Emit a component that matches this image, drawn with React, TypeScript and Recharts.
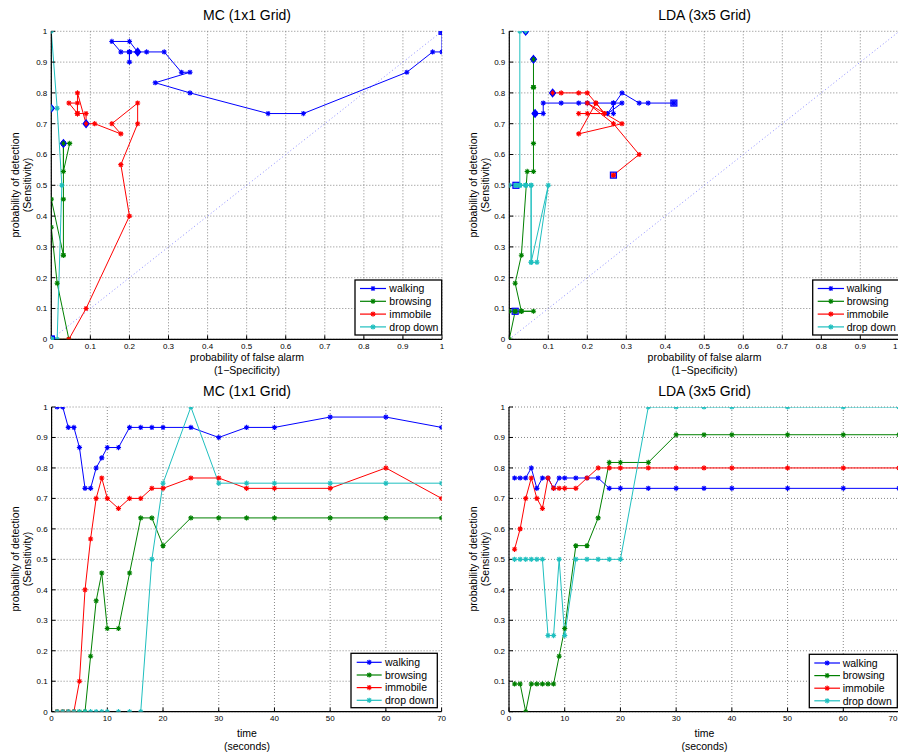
import React from 'react';
import { LineChart, Line, XAxis, YAxis, CartesianGrid, ReferenceLine } from 'recharts';

const seriesNames = ['walking', 'browsing', 'immobile', 'drop down'];
const seriesColors = ['#0000ff', '#008000', '#ff0000', '#1fbfbf'];

const timeSeconds = [1, 2, 3, 4, 5, 6, 7, 8, 9, 10, 12, 14, 16, 18, 20, 25, 30, 35, 40, 50, 60, 70];

// MC (1x1 Grid) sensitivity over time
const mcWalkingSens = [1, 1, 0.933, 0.933, 0.867, 0.733, 0.733, 0.8, 0.833, 0.867, 0.867, 0.933, 0.933, 0.933, 0.933, 0.933, 0.9, 0.933, 0.933, 0.967, 0.967, 0.933];
const mcBrowsingSens = [0, 0, 0, 0, 0, 0, 0.182, 0.364, 0.455, 0.273, 0.273, 0.455, 0.636, 0.636, 0.545, 0.636, 0.636, 0.636, 0.636, 0.636, 0.636, 0.636];
const mcImmobileSens = [0, 0, 0, 0, 0.1, 0.4, 0.567, 0.7, 0.767, 0.7, 0.667, 0.7, 0.7, 0.733, 0.733, 0.767, 0.767, 0.733, 0.733, 0.733, 0.8, 0.7];
const mcDropSens = [0, 0, 0, 0, 0, 0, 0, 0, 0, 0, 0, 0, 0, 0.5, 0.75, 1, 0.75, 0.75, 0.75, 0.75, 0.75, 0.75];

// MC (1x1 Grid) false alarm rate over time
const mcWalkingFpr = [1, 1, 1, 0.976, 0.91, 0.645, 0.555, 0.355, 0.266, 0.355, 0.333, 0.289, 0.244, 0.221, 0.2, 0.2, 0.2, 0.2, 0.178, 0.155, 0.2, 0.221];
const mcBrowsingFpr = [0, 0, 0, 0, 0, 0.045, 0.015, 0, 0, 0.031, 0.031, 0.031, 0.031, 0.031, 0.031, 0.047, 0.031, 0.031, 0.031, 0.031, 0.031, 0.031];
const mcImmobileFpr = [0, 0, 0, 0.045, 0.089, 0.2, 0.178, 0.221, 0.221, 0.155, 0.178, 0.111, 0.089, 0.089, 0.067, 0.067, 0.045, 0.067, 0.067, 0.067, 0.067, 0.089];
const mcDropFpr = [0, 0, 0, 0, 0, 0, 0, 0, 0, 0, 0, 0, 0.015, 0.027, 0.015, 0, 0, 0, 0, 0, 0, 0];

// LDA (3x5 Grid) sensitivity over time
const ldaWalkingSens = [0.767, 0.767, 0.767, 0.8, 0.733, 0.767, 0.767, 0.733, 0.767, 0.767, 0.767, 0.767, 0.767, 0.733, 0.733, 0.733, 0.733, 0.733, 0.733, 0.733, 0.733, 0.733];
const ldaBrowsingSens = [0.091, 0.091, 0, 0.091, 0.091, 0.091, 0.091, 0.091, 0.182, 0.273, 0.545, 0.545, 0.636, 0.818, 0.818, 0.818, 0.909, 0.909, 0.909, 0.909, 0.909, 0.909];
const ldaImmobileSens = [0.533, 0.6, 0.7, 0.767, 0.7, 0.667, 0.767, 0.733, 0.733, 0.733, 0.733, 0.767, 0.8, 0.8, 0.8, 0.8, 0.8, 0.8, 0.8, 0.8, 0.8, 0.8];
const ldaDropSens = [0.5, 0.5, 0.5, 0.5, 0.5, 0.5, 0.25, 0.25, 0.5, 0.25, 0.5, 0.5, 0.5, 0.5, 0.5, 1, 1, 1, 1, 1, 1, 1];

// LDA (3x5 Grid) false alarm rate over time
const ldaWalkingFpr = [0.422, 0.356, 0.333, 0.289, 0.252, 0.289, 0.267, 0.267, 0.267, 0.2, 0.178, 0.133, 0.087, 0.087, 0.066, 0.066, 0.066, 0.066, 0.066, 0.066, 0.066, 0.066];
const ldaBrowsingFpr = [0.015, 0, 0, 0.015, 0.031, 0.062, 0.031, 0.031, 0.015, 0.031, 0.046, 0.062, 0.062, 0.062, 0.062, 0.062, 0.062, 0.062, 0.062, 0.062, 0.062, 0.062];
const ldaImmobileFpr = [0.267, 0.333, 0.267, 0.2, 0.289, 0.178, 0.222, 0.244, 0.2, 0.178, 0.244, 0.222, 0.2, 0.178, 0.133, 0.111, 0.111, 0.111, 0.111, 0.111, 0.111, 0.111];
const ldaDropFpr = [0.017, 0, 0.017, 0.027, 0.042, 0.056, 0.056, 0.071, 0.1, 0.056, 0.056, 0.042, 0.042, 0.027, 0.027, 0.027, 0.042, 0.042, 0.042, 0.042, 0.042, 0.042];

const rocTicks = [0, 0.1, 0.2, 0.3, 0.4, 0.5, 0.6, 0.7, 0.8, 0.9, 1];
const sensTicks = [0, 0.1, 0.2, 0.3, 0.4, 0.5, 0.6, 0.7, 0.8, 0.9, 1];
const timeTicks = [0, 10, 20, 30, 40, 50, 60, 70];

type Pt = { x: number; y: number };
const zip = (xs: number[], ys: number[]): Pt[] => xs.map((x, i) => ({ x, y: ys[i] }));

const mcRoc = [zip(mcWalkingFpr, mcWalkingSens), zip(mcBrowsingFpr, mcBrowsingSens), zip(mcImmobileFpr, mcImmobileSens), zip(mcDropFpr, mcDropSens)];
const ldaRoc = [zip(ldaWalkingFpr, ldaWalkingSens), zip(ldaBrowsingFpr, ldaBrowsingSens), zip(ldaImmobileFpr, ldaImmobileSens), zip(ldaDropFpr, ldaDropSens)];
const mcTime = [zip(timeSeconds, mcWalkingSens), zip(timeSeconds, mcBrowsingSens), zip(timeSeconds, mcImmobileSens), zip(timeSeconds, mcDropSens)];
const ldaTime = [zip(timeSeconds, ldaWalkingSens), zip(timeSeconds, ldaBrowsingSens), zip(timeSeconds, ldaImmobileSens), zip(timeSeconds, ldaDropSens)];

const FONT = '"Liberation Sans", Arial, Helvetica, sans-serif';
const PAGE_W = 898;

const starPath = (cx: number, cy: number, r = 2.6) => {
  const d = r * 0.72;
  return `M${cx - r},${cy}H${cx + r}M${cx},${cy - r}V${cy + r}M${cx - d},${cy - d}L${cx + d},${cy + d}M${cx - d},${cy + d}L${cx + d},${cy - d}`;
};

const makeDot = (color: string, n: number, special: boolean) => (props: any) => {
  const { cx, cy, index } = props;
  if (cx == null || cy == null || isNaN(cx) || isNaN(cy)) return <g key={`d-${index}`} />;
  return (
    <g key={`d-${index}`}>
      <path d={starPath(cx, cy)} stroke={color} strokeWidth={1.1} fill="none" />
      {special && index === 0 && (
        <rect x={cx - 3} y={cy - 3} width={6} height={6} fill={color} fillOpacity={0.55} stroke="#0000ff" strokeWidth={1.2} />
      )}
      {special && index === n - 1 && (
        <polygon points={`${cx},${cy - 3.8} ${cx + 3},${cy} ${cx},${cy + 3.8} ${cx - 3},${cy}`} fill={color} stroke="#0000ff" strokeWidth={1.2} />
      )}
    </g>
  );
};

type PanelProps = {
  left: number;
  top: number;
  width: number;
  height: number;
  margin: { top: number; right: number; bottom: number; left: number };
  xMax: number;
  xTicks: number[];
  series: Pt[][];
  roc: boolean;
};

const fmt = (v: number) => String(Math.round(v * 10) / 10);

const makeXTick = (panelLeft: number) => (props: any) => {
  const { x, y, payload, index } = props;
  const overflow = x + panelLeft > PAGE_W - 5;
  const tx = overflow ? PAGE_W - panelLeft - 0.5 : x;
  return (
    <text key={`xt-${index}`} x={tx} y={y} dy="0.71em" textAnchor={overflow ? 'end' : 'middle'} fontSize={8} fill="#000" fontFamily={FONT}>
      {fmt(payload.value)}
    </text>
  );
};

const Panel = ({ left, top, width, height, margin, xMax, xTicks, series, roc }: PanelProps) => (
  <div style={{ position: 'absolute', left, top, width, height }}>
    <LineChart width={width} height={height} margin={margin}>
      <CartesianGrid stroke="#7a7a7a" strokeDasharray="1 2" strokeWidth={0.9} />
      <XAxis
        type="number"
        dataKey="x"
        domain={[0, xMax]}
        ticks={xTicks}
        interval={0}
        height={20}
        tickSize={-4}
        tickMargin={8}
        axisLine={{ stroke: '#000', strokeWidth: 1.2 }}
        tickLine={{ stroke: '#000' }}
        tick={makeXTick(left)}
        allowDataOverflow
      />
      <XAxis
        xAxisId="top"
        orientation="top"
        mirror
        type="number"
        dataKey="x"
        domain={[0, xMax]}
        ticks={xTicks}
        interval={0}
        height={0}
        tickSize={4}
        tick={false}
        axisLine={{ stroke: '#000', strokeWidth: 1 }}
        tickLine={{ stroke: '#000' }}
        allowDataOverflow
      />
      <YAxis
        type="number"
        dataKey="y"
        domain={[0, 1]}
        ticks={sensTicks}
        interval={0}
        width={30}
        tickFormatter={fmt}
        tickSize={-4}
        tickMargin={8}
        axisLine={{ stroke: '#000', strokeWidth: 1.2 }}
        tickLine={{ stroke: '#000' }}
        tick={{ fill: '#000', fontSize: 8 }}
        allowDataOverflow
      />
      <YAxis
        yAxisId="right"
        orientation="right"
        mirror
        type="number"
        dataKey="y"
        domain={[0, 1]}
        ticks={sensTicks}
        interval={0}
        width={0}
        tickSize={4}
        tick={false}
        axisLine={{ stroke: '#000', strokeWidth: 1 }}
        tickLine={{ stroke: '#000' }}
        allowDataOverflow
      />
      {roc && (
        <ReferenceLine
          segment={[{ x: 0, y: 0 }, { x: 1, y: 1 }]}
          stroke="#8c8cff"
          strokeDasharray="1 2.5"
          strokeWidth={1}
        />
      )}
      {series.map((data, i) => (
        <Line
          key={seriesNames[i]}
          data={data}
          dataKey="y"
          name={seriesNames[i]}
          stroke={seriesColors[i]}
          strokeWidth={1}
          dot={makeDot(seriesColors[i], data.length, roc)}
          activeDot={false}
          isAnimationActive={false}
          type="linear"
        />
      ))}
    </LineChart>
  </div>
);

const Legend = ({ x, y, w, h, rowY, lx1, lx2, tx }: { x: number; y: number; w: number; h: number; rowY: number[]; lx1: number; lx2: number; tx: number }) => (
  <g>
    <rect x={x} y={y} width={w} height={h} fill="#fff" stroke="#000" strokeWidth={1.3} />
    {seriesNames.map((name, i) => (
      <g key={name}>
        <line x1={lx1} x2={lx2} y1={rowY[i]} y2={rowY[i]} stroke={seriesColors[i]} strokeWidth={1.2} />
        <path d={starPath((lx1 + lx2) / 2, rowY[i])} stroke={seriesColors[i]} strokeWidth={1.1} fill="none" />
        <text x={tx} y={rowY[i] + 3.8} fontSize={10.5} fill="#000" fontFamily={FONT}>{name}</text>
      </g>
    ))}
  </g>
);

const YLabel = ({ x, y }: { x: number; y: number }) => (
  <g>
    <text transform={`translate(${x},${y}) rotate(-90)`} textAnchor="middle" fontSize={10.5} fontFamily={FONT} fill="#000">probability of detection</text>
    <text transform={`translate(${x + 12},${y}) rotate(-90)`} textAnchor="middle" fontSize={10.5} fontFamily={FONT} fill="#000">(Sensitivity)</text>
  </g>
);

export default function App() {
  return (
    <div style={{ position: 'absolute', left: 0, top: 0, width: 898, height: 754, overflow: 'hidden', background: '#fff', fontFamily: FONT }}>
      <Panel left={0} top={0} width={449} height={377} margin={{ top: 31.3, right: 7, bottom: 17.7, left: 21.3 }} xMax={1} xTicks={rocTicks} series={mcRoc} roc />
      <Panel left={449} top={0} width={455} height={377} margin={{ top: 31.3, right: 4.7, bottom: 17.7, left: 30.3 }} xMax={1} xTicks={rocTicks} series={ldaRoc} roc />
      <Panel left={0} top={377} width={449} height={377} margin={{ top: 30, right: 7.4, bottom: 22.3, left: 21.6 }} xMax={70} xTicks={timeTicks} series={mcTime} roc={false} />
      <Panel left={449} top={377} width={455} height={377} margin={{ top: 30, right: 5, bottom: 22.3, left: 30 }} xMax={70} xTicks={timeTicks} series={ldaTime} roc={false} />
      <svg width={898} height={754} style={{ position: 'absolute', left: 0, top: 0, pointerEvents: 'none' }}>
        <text x={247} y={20} textAnchor="middle" fontSize={14} fontFamily={FONT} fill="#000">MC (1x1 Grid)</text>
        <text x={704.5} y={20} textAnchor="middle" fontSize={14} fontFamily={FONT} fill="#000">LDA (3x5 Grid)</text>
        <text x={247} y={396} textAnchor="middle" fontSize={14} fontFamily={FONT} fill="#000">MC (1x1 Grid)</text>
        <text x={704.5} y={396} textAnchor="middle" fontSize={14} fontFamily={FONT} fill="#000">LDA (3x5 Grid)</text>

        <text x={247} y={361} textAnchor="middle" fontSize={10.5} fontFamily={FONT} fill="#000">probability of false alarm</text>
        <text x={247} y={373.5} textAnchor="middle" fontSize={10.5} fontFamily={FONT} fill="#000">(1−Specificity)</text>
        <text x={704.5} y={361} textAnchor="middle" fontSize={10.5} fontFamily={FONT} fill="#000">probability of false alarm</text>
        <text x={704.5} y={373.5} textAnchor="middle" fontSize={10.5} fontFamily={FONT} fill="#000">(1−Specificity)</text>

        <text x={247} y={737} textAnchor="middle" fontSize={10.5} fontFamily={FONT} fill="#000">time</text>
        <text x={247} y={749.5} textAnchor="middle" fontSize={10.5} fontFamily={FONT} fill="#000">(seconds)</text>
        <text x={704.5} y={737} textAnchor="middle" fontSize={10.5} fontFamily={FONT} fill="#000">time</text>
        <text x={704.5} y={749.5} textAnchor="middle" fontSize={10.5} fontFamily={FONT} fill="#000">(seconds)</text>

        <YLabel x={18.5} y={185} />
        <YLabel x={476.5} y={185} />
        <YLabel x={18.5} y={559} />
        <YLabel x={476.5} y={559} />

        <Legend x={355} y={280} w={86.7} h={55} rowY={[288.5, 301.3, 314.1, 326.9]} lx1={360} lx2={386} tx={389.3} />
        <Legend x={812.7} y={280} w={86.7} h={55} rowY={[288.5, 301.3, 314.1, 326.9]} lx1={817.7} lx2={844} tx={846.7} />
        <Legend x={351} y={653.3} w={86.3} h={54.4} rowY={[662.3, 675, 687.6, 700.3]} lx1={356.7} lx2={381.7} tx={385} />
        <Legend x={809.3} y={654.3} w={88} h={53.4} rowY={[663, 675.6, 688.2, 700.8]} lx1={814.3} lx2={840} tx={842.7} />
      </svg>
    </div>
  );
}
